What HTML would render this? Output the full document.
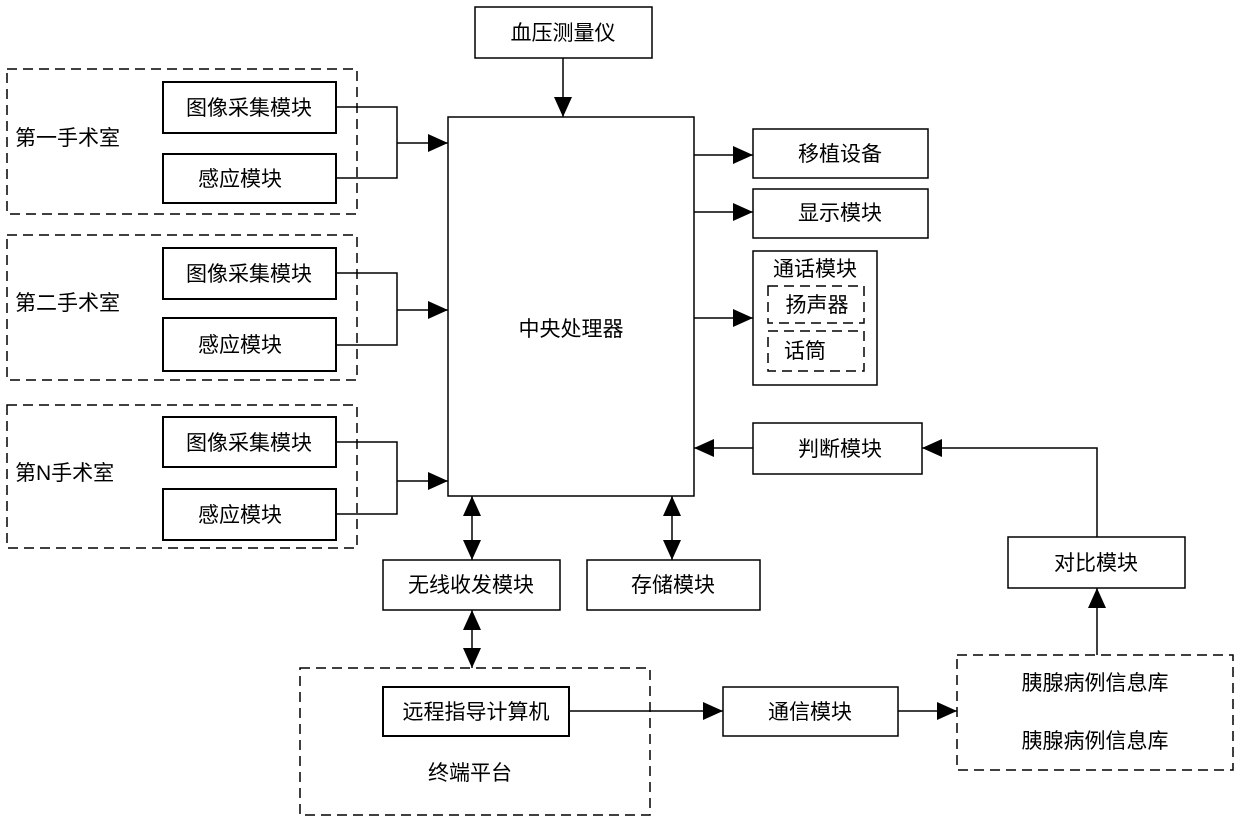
<!DOCTYPE html>
<html><head><meta charset="utf-8"><style>
body{margin:0;background:#fff;}
svg text{font-family:"Liberation Sans","WenQuanYi Zen Hei","Noto Sans CJK SC",sans-serif;font-size:21px;fill:#000;}
</style></head><body>
<svg width="1240" height="821" viewBox="0 0 1240 821" xmlns="http://www.w3.org/2000/svg">
<defs>
<marker id="a" markerWidth="20" markerHeight="20" refX="20" refY="10" orient="auto" markerUnits="userSpaceOnUse"><path d="M0,1 L20,10 L0,19 z" fill="#000"/></marker>
<marker id="b" markerWidth="20" markerHeight="20" refX="20" refY="10" orient="auto-start-reverse" markerUnits="userSpaceOnUse"><path d="M0,1 L20,10 L0,19 z" fill="#000"/></marker>
</defs>
<g fill="none" stroke="#000" stroke-width="1.5">
<g stroke-dasharray="10,6">
<rect x="7" y="69" width="350" height="145"/>
<rect x="7" y="235" width="350" height="145"/>
<rect x="7" y="405" width="350" height="143"/>
<rect x="300" y="668" width="350" height="147"/>
<rect x="957" y="655" width="276" height="115"/>
<rect x="768" y="286" width="96" height="37"/>
<rect x="768" y="331" width="96" height="40"/>
</g>
<rect x="475" y="7" width="177" height="51"/>
<rect x="448" y="117" width="246" height="379"/>
<rect x="163" y="82" width="173" height="51" stroke-width="2"/>
<rect x="163" y="154" width="173" height="49" stroke-width="2"/>
<rect x="163" y="248" width="173" height="51" stroke-width="2"/>
<rect x="163" y="318" width="173" height="53" stroke-width="2"/>
<rect x="163" y="417" width="173" height="50" stroke-width="2"/>
<rect x="163" y="489" width="173" height="51" stroke-width="2"/>
<rect x="753" y="129" width="175" height="49"/>
<rect x="753" y="189" width="175" height="49"/>
<rect x="753" y="251" width="124" height="134"/>
<rect x="753" y="423" width="169" height="51"/>
<rect x="1008" y="537" width="177" height="51"/>
<rect x="383" y="560" width="177" height="50"/>
<rect x="587" y="560" width="173" height="50"/>
<rect x="383" y="687" width="186" height="49" stroke-width="2"/>
<rect x="723" y="687" width="175" height="49"/>
<path d="M563,58 V117" marker-end="url(#a)"/>
<path d="M336,107 H397 V178 H336"/>
<path d="M397,143 H448" marker-end="url(#a)"/>
<path d="M336,273 H397 V345 H336"/><path d="M397,310 H448" marker-end="url(#a)"/>
<path d="M336,442 H397 V514 H336"/><path d="M397,481 H448" marker-end="url(#a)"/>
<path d="M694,155 H753" marker-end="url(#a)"/>
<path d="M694,212 H753" marker-end="url(#a)"/>
<path d="M694,318 H753" marker-end="url(#a)"/>
<path d="M753,448 H694" marker-end="url(#a)"/>
<path d="M1097,537 V448 H922" marker-end="url(#a)"/>
<path d="M1097,655 V588" marker-end="url(#a)"/>
<path d="M472,496 V560" marker-start="url(#b)" marker-end="url(#a)"/>
<path d="M472,610 V668" marker-start="url(#b)" marker-end="url(#a)"/>
<path d="M672,496 V560" marker-start="url(#b)" marker-end="url(#a)"/>
<path d="M569,711 H723" marker-end="url(#a)"/>
<path d="M898,711 H957" marker-end="url(#a)"/>
</g>
<g text-anchor="middle">
<text x="563" y="40">血压测量仪</text>
<text x="249" y="115">图像采集模块</text>
<text x="240" y="186">感应模块</text>
<text x="249" y="281">图像采集模块</text>
<text x="240" y="352">感应模块</text>
<text x="249" y="450">图像采集模块</text>
<text x="240" y="522">感应模块</text>
<text x="571" y="336">中央处理器</text>
<text x="840" y="161">移植设备</text>
<text x="840" y="220">显示模块</text>
<text x="815" y="276">通话模块</text>
<text x="817" y="312">扬声器</text>
<text x="805" y="358">话筒</text>
<text x="840" y="456">判断模块</text>
<text x="1096" y="570">对比模块</text>
<text x="471" y="592">无线收发模块</text>
<text x="673" y="592">存储模块</text>
<text x="476" y="719">远程指导计算机</text>
<text x="470" y="780">终端平台</text>
<text x="810" y="719">通信模块</text>
<text x="1095" y="690">胰腺病例信息库</text>
<text x="1095" y="748">胰腺病例信息库</text>
</g>
<text x="15" y="145">第一手术室</text>
<text x="15" y="310">第二手术室</text>
<text x="15" y="480">第N手术室</text>
</svg>
</body></html>
